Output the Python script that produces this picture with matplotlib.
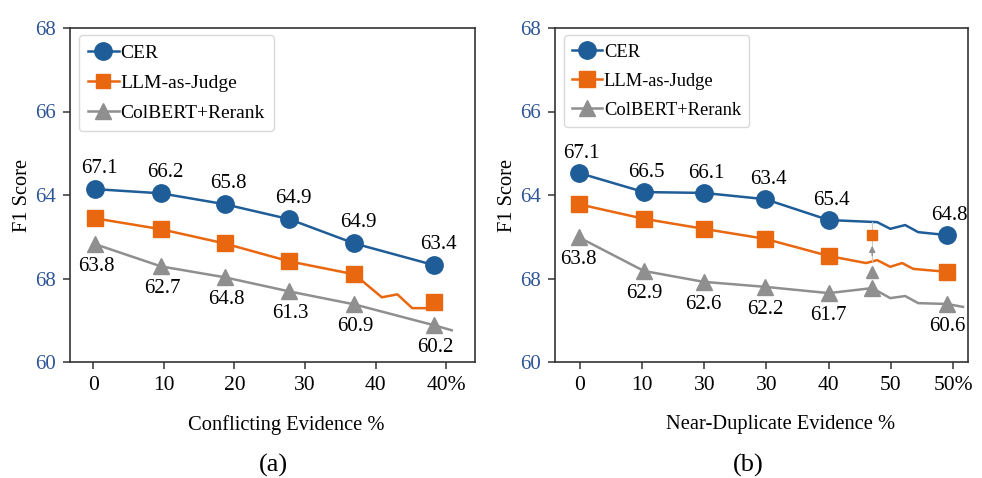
import matplotlib.pyplot as plt

plt.rcParams['font.family'] = ['Liberation Serif', 'DejaVu Serif']

# ---- data ----
# panel (a): conflicting evidence
a_x = [0.3, 9.6, 18.6, 27.8, 37.0, 48.3]
a_cer = [64.14, 64.04, 63.78, 63.42, 62.84, 62.32]
a_cer_labels = ['67.1', '66.2', '65.8', '64.9', '64.9', '63.4']
a_llm_x = [0.3, 9.6, 18.6, 27.8, 37.0, 40.9, 43.1, 45.2, 48.2]
a_llm = [63.44, 63.18, 62.84, 62.41, 62.10, 61.55, 61.62, 61.29, 61.29]
a_llm_mark = [63.44, 63.18, 62.84, 62.41, 62.10, 61.43]
a_col_x = [0.3, 9.6, 18.6, 27.8, 37.0, 48.3, 50.8]
a_col = [62.82, 62.29, 62.03, 61.69, 61.38, 60.88, 60.76]
a_col_labels = ['63.8', '62.7', '64.8', '61.3', '60.9', '60.2']
a_ticks = [0, 10, 20, 30, 40, 50]
a_ticklabels = ['0', '10', '20', '30', '40', '40%']

# panel (b): near-duplicate evidence
b_x = [-0.2, 10.3, 19.9, 29.8, 40.0, 59.0]
b_cer_x = [-0.2, 10.3, 19.9, 29.8, 40.0, 47.8, 49.9, 52.3, 54.4, 59.0]
b_cer = [64.53, 64.07, 64.05, 63.90, 63.40, 63.35, 63.19, 63.28, 63.11, 63.04]
b_cer_labels = ['67.1', '66.5', '66.1', '63.4', '65.4', '64.8']
b_llm_x = [-0.2, 10.3, 19.9, 29.8, 40.0, 46.0, 47.8, 49.9, 51.8, 53.6, 59.0]
b_llm = [63.78, 63.43, 63.19, 62.95, 62.54, 62.37, 62.44, 62.28, 62.37, 62.23, 62.16]
b_col_x = [-0.2, 10.3, 19.9, 29.8, 40.0, 47.0, 49.9, 52.3, 54.4, 59.0, 61.6]
b_col = [62.99, 62.18, 61.92, 61.80, 61.65, 61.77, 61.53, 61.58, 61.41, 61.39, 61.32]
b_col_labels = ['63.8', '62.9', '62.6', '62.2', '61.7', '60.6']
b_col_marks = [0, 1, 2, 3, 4, 5, 9]
b_ticks = [0, 10, 20, 30, 40, 50, 60]
b_ticklabels = ['0', '10', '30', '30', '40', '50', '50%']
b_note_x = 47.0
b_note_square = 63.04
b_note_tri = 62.16

yticks = [60, 62, 64, 66, 68]
yticklabels = ['60', '68', '64', '66', '68']

BLUE = '#1f5d98'
ORANGE = '#e8670f'
GRAY = '#8f8f8f'
TICKBLUE = '#2e5597'

fig = plt.figure(figsize=(9.82, 4.78), dpi=100)
ax1 = fig.add_axes([70 / 982, 1 - 362 / 478, 405 / 982, 334 / 478])
ax2 = fig.add_axes([555 / 982, 1 - 362 / 478, 413 / 982, 334 / 478])


def style_axes(ax, ticks, ticklabels, xlim):
    ax.set_ylim(60, 68)
    ax.set_xlim(*xlim)
    ax.set_yticks(yticks)
    ax.set_yticklabels(yticklabels, color=TICKBLUE, fontsize=15)
    ax.set_xticks(ticks)
    ax.set_xticklabels(ticklabels, fontsize=15.5)
    ax.tick_params(direction='out', length=5, width=1.1, color='#333333', pad=5)
    for s in ax.spines.values():
        s.set_color('#333333')
        s.set_linewidth(1.2)
    ax.set_ylabel('F1 Score', fontsize=14.7, labelpad=2)


def add_labels(ax, xs, ys, labels, dy, dx=0):
    for x, y, t in zip(xs, ys, labels):
        ax.annotate(t, (x, y), xytext=(dx, dy), textcoords='offset points',
                    ha='center', va='center', fontsize=15)


def add_legend(ax, size):
    leg = ax.legend(loc='upper left', bbox_to_anchor=(0.022, 0.978), fontsize=size,
                    handlelength=1.6, handletextpad=0.1, labelspacing=0.65,
                    borderpad=0.45, borderaxespad=0, frameon=True, fancybox=True)
    leg.get_frame().set_edgecolor('#d0d0d0')
    leg.get_frame().set_linewidth(1.0)


# ---- panel (a) ----
ax1.plot(a_x, a_cer, color=BLUE, lw=1.8, marker='o', ms=12.5, label='CER')
ax1.plot(a_llm_x, a_llm, color=ORANGE, lw=1.8)
ax1.plot(a_x, a_llm_mark, color=ORANGE, lw=0, marker='s', ms=11)
ax1.plot([], [], color=ORANGE, lw=1.8, marker='s', ms=10, label='LLM-as-Judge')
ax1.plot(a_col_x, a_col, color=GRAY, lw=1.8, marker='^', ms=11,
         markevery=list(range(len(a_x))), label='ColBERT+Rerank')
add_labels(ax1, a_x, a_cer, a_cer_labels, 15, 3)
add_labels(ax1, a_x, a_col, a_col_labels, -16, 1)
style_axes(ax1, a_ticks, a_ticklabels, (-3.3, 54.1))
add_legend(ax1, 14)
ax1.set_xlabel('Conflicting Evidence %', fontsize=14.8)
ax1.xaxis.set_label_coords(0.533, -0.16)

# ---- panel (b) ----
ax2.plot(b_cer_x, b_cer, color=BLUE, lw=1.8, marker='o', ms=12.5,
         markevery=[0, 1, 2, 3, 4, 9], label='CER')
ax2.plot(b_llm_x, b_llm, color=ORANGE, lw=1.8, marker='s', ms=11,
         markevery=[0, 1, 2, 3, 4, 10], label='LLM-as-Judge')
ax2.plot(b_col_x, b_col, color=GRAY, lw=1.8, marker='^', ms=11,
         markevery=b_col_marks, label='ColBERT+Rerank')
ax2.plot([b_note_x, b_note_x], [63.35, 62.42], color='#c8c8c8', lw=0.8)
ax2.annotate('', xy=(b_note_x, 62.85), xytext=(b_note_x, 62.48),
             arrowprops=dict(arrowstyle='-|>', color=GRAY, lw=1.0, mutation_scale=9))
ax2.plot([b_note_x], [b_note_square], color=ORANGE, marker='s', ms=6.5, lw=0)
ax2.plot([b_note_x], [b_note_tri], color=GRAY, marker='^', ms=8, lw=0)
add_labels(ax2, b_x, [b_cer[i] for i in [0, 1, 2, 3, 4, 9]], b_cer_labels, 14, 2)
add_labels(ax2, b_x, [b_col[i] for i in [0, 1, 2, 3, 4, 9]], b_col_labels, -16)
style_axes(ax2, b_ticks, b_ticklabels, (-4.0, 62.4))
add_legend(ax2, 13.3)
ax2.set_xlabel('Near-Duplicate Evidence %', fontsize=14.8)
ax2.xaxis.set_label_coords(0.547, -0.16)

fig.text(273 / 982, 1 - 465 / 478, '(a)', ha='center', va='center', fontsize=19)
fig.text(748 / 982, 1 - 465 / 478, '(b)', ha='center', va='center', fontsize=19)

fig.savefig('out.png', dpi=100)
